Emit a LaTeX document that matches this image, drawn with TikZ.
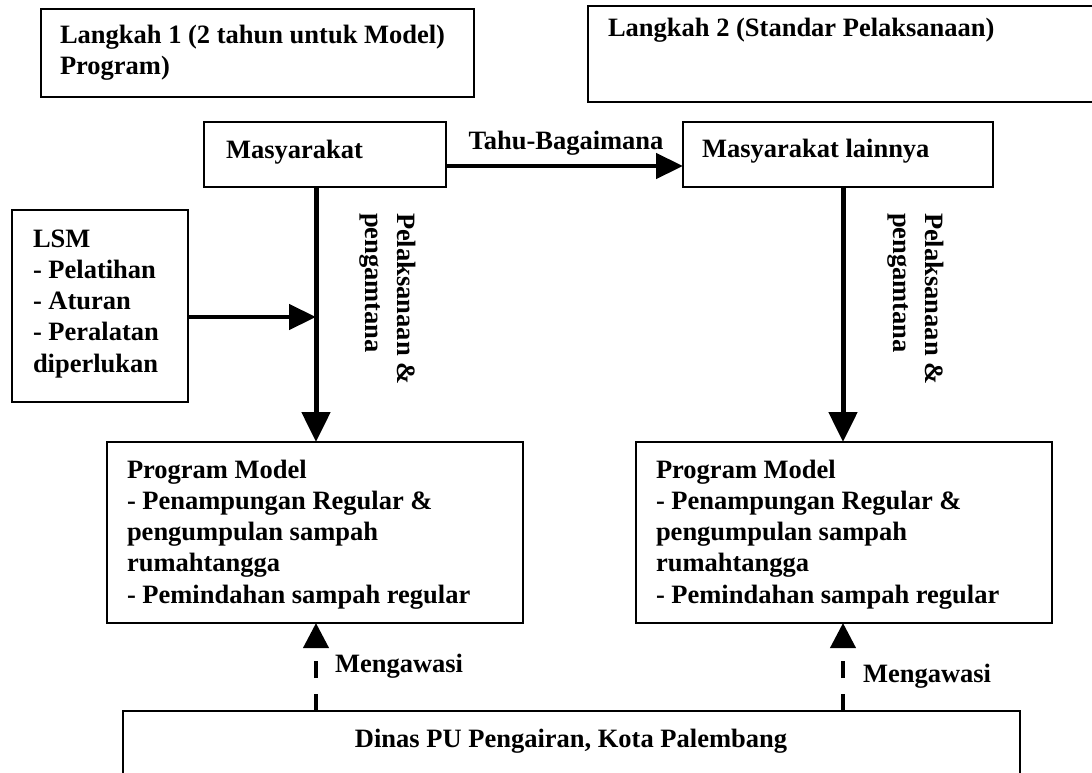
\documentclass[tikz,border=0pt]{standalone}
\usepackage{fontspec}
\setmainfont{Liberation Serif}
\usetikzlibrary{arrows.meta}
\newcommand\dfont{\fontsize{26.5}{31.3}\selectfont\bfseries}
\begin{document}
\begin{tikzpicture}[x=1pt,y=-1pt,
  box/.style={draw, line width=1.5pt, inner sep=0pt, outer sep=0pt, anchor=north west},
  txt/.style={inner sep=0pt, outer sep=0pt, anchor=north west, align=left, font=\dfont},
  lbl/.style={inner sep=0pt, outer sep=0pt, font=\dfont},
  vArr/.style={line width=5pt, -{Triangle[length=30pt,width=28pt]}},
  hArr/.style={line width=4.5pt, -{Triangle[length=27pt,width=25pt]}},
  dArr/.style={line width=4pt, dash pattern=on 17pt off 16pt, -{Triangle[length=25pt,width=25pt]}}
]
\useasboundingbox (0,0) rectangle (1092,772);
\clip (0,0) rectangle (1092,772);
\fill[white] (0,0) rectangle (1092,772);

% boxes
\node[box, minimum width=433pt, minimum height=88pt] (l1) at (41,9) {};
\node[box, minimum width=520pt, minimum height=96pt] (l2) at (588,6) {};
\node[box, minimum width=242pt, minimum height=65pt] (mas) at (204,122) {};
\node[box, minimum width=310pt, minimum height=65pt] (lain) at (683,122) {};
\node[box, minimum width=176pt, minimum height=192pt] (lsm) at (12,210) {};
\node[box, minimum width=416pt, minimum height=181pt] (pm1) at (107,442) {};
\node[box, minimum width=416pt, minimum height=181pt] (pm2) at (636,442) {};
\node[box, minimum width=897pt, minimum height=100pt] (dinas) at (123,711) {};

% texts
\node[txt] (l1t) at (60,21.1) {\strut Langkah 1 (2 tahun untuk Model)\\Program)};
\node[txt] (l2t) at (608,14.1) {\strut Langkah 2 (Standar Pelaksanaan)};
\node[txt] (mast) at (226,136.1) {\strut Masyarakat};
\node[txt] (laint) at (702,135.1) {\strut Masyarakat lainnya};
\node[txt] (lsmt) at (33,225.1) {\strut LSM\\- Pelatihan\\- Aturan\\- Peralatan\\diperlukan};
\node[txt] (pm1t) at (127,456.1) {\strut Program Model\\- Penampungan Regular \&\\pengumpulan sampah\\rumahtangga\\- Pemindahan sampah regular};
\node[txt] (pm2t) at (656,456.1) {\strut Program Model\\- Penampungan Regular \&\\pengumpulan sampah\\rumahtangga\\- Pemindahan sampah regular};
\node[lbl, anchor=base] (dinast) at (571,747) {Dinas PU Pengairan, Kota Palembang};

% connectors
\coordinate (c1) at (316,0);
\coordinate (c2) at (843,0);
\coordinate (ty) at (0,166);
\coordinate (j1) at (316,317);

\draw[vArr] (c1 |- mas.south) -- (c1 |- pm1.north);
\draw[vArr] (c2 |- lain.south) -- (c2 |- pm2.north);
\draw[hArr] (mas.east |- ty) -- (lain.west |- ty);
\draw[hArr] (lsm.east |- j1) -- (j1);
\draw[dArr] (c1 |- dinas.north) -- (c1 |- pm1.south);
\draw[dArr] (c2 |- dinas.north) -- (c2 |- pm2.south);

% labels
\node[lbl, anchor=base] (tahu) at (566,149) {Tahu-Bagaimana};
\node[txt, rotate=-90] (pel1) at (419,213) {\strut Pelaksanaan \&\\pengamtana};
\node[txt, rotate=-90] (pel2) at (947,213) {\strut Pelaksanaan \&\\pengamtana};
\node[txt] (mg1) at (335,650.1) {\strut Mengawasi};
\node[txt] (mg2) at (863,660.1) {\strut Mengawasi};
\end{tikzpicture}
\end{document}
